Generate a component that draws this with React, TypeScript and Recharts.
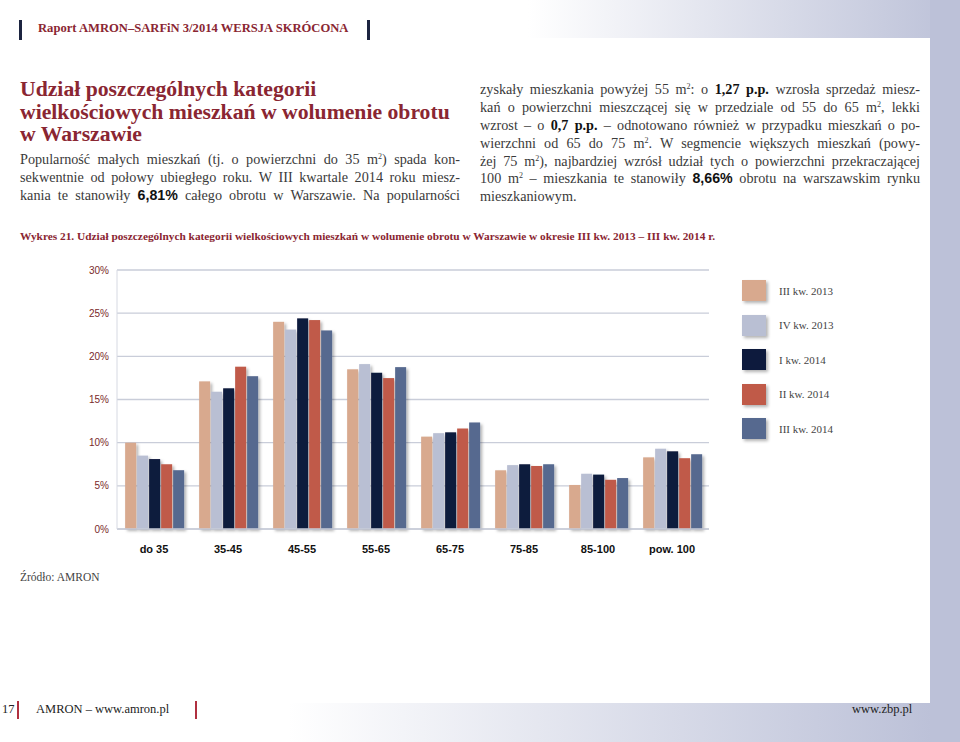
import React from 'react';
import { BarChart, Bar, XAxis, YAxis, CartesianGrid } from 'recharts';

const categories = ['do 35', '35-45', '45-55', '55-65', '65-75', '75-85', '85-100', 'pow. 100'];
const q3_2013 = [10.0, 17.1, 24.0, 18.5, 10.7, 6.8, 5.1, 8.3];
const q4_2013 = [8.5, 15.9, 23.1, 19.1, 11.1, 7.4, 6.4, 9.3];
const q1_2014 = [8.1, 16.3, 24.4, 18.1, 11.2, 7.5, 6.3, 9.0];
const q2_2014 = [7.5, 18.8, 24.2, 17.48, 11.64, 7.3, 5.7, 8.2];
const q3_2014 = [6.81, 17.7, 23.0, 18.75, 12.34, 7.5, 5.9, 8.66];
const yTicks = [0, 5, 10, 15, 20, 25, 30];

const seriesList = [
  { key: 'q3_2013', name: 'III kw. 2013', color: '#d8a98e', values: q3_2013 },
  { key: 'q4_2013', name: 'IV kw. 2013', color: '#b9bfd3', values: q4_2013 },
  { key: 'q1_2014', name: 'I kw. 2014', color: '#0d1a3d', values: q1_2014 },
  { key: 'q2_2014', name: 'II kw. 2014', color: '#c05a48', values: q2_2014 },
  { key: 'q3_2014', name: 'III kw. 2014', color: '#56698f', values: q3_2014 },
];

const data = categories.map((c, i) => {
  const row: Record<string, string | number> = { cat: c };
  seriesList.forEach(s => { row[s.key] = s.values[i]; });
  return row;
});

const RED = '#8a2632';
const LAV = '#bcc1d8';
const serif = "'Liberation Serif', 'DejaVu Serif', serif";

function ShadowBar(props: any) {
  const { x, y, width, height, fill } = props;
  if (height <= 0) return null;
  return <rect x={x} y={y} width={width} height={height} fill={fill} filter="url(#barShadow)" />;
}

function XTick(props: any) {
  const { x, y, payload } = props;
  return (
    <text x={x} y={y + 16} textAnchor="middle" fontSize={11} fontWeight="bold"
      fontFamily="'Liberation Sans Narrow', 'Liberation Sans', sans-serif" fill="#111">
      {payload.value}
    </text>
  );
}

const Sq = () => (
  <span style={{ fontSize: 8, position: 'relative', top: -5, lineHeight: 0 }}>2</span>
);

const Line = ({ children, last }: { children: React.ReactNode; last?: boolean }) => (
  <div style={{ textAlign: 'justify', textAlignLast: last ? 'left' : 'justify', whiteSpace: 'nowrap', height: 17.9 }}>{children}</div>
);

const bodyStyle: React.CSSProperties = {
  position: 'absolute', fontFamily: serif, fontSize: 14.2, lineHeight: '17.9px', color: '#3a3a3a',
};

export default function App() {
  return (
    <div style={{ position: 'absolute', left: 0, top: 0, width: 960, height: 742, overflow: 'hidden', background: '#fff' }}>
      {/* background frame */}
      <div style={{ position: 'absolute', left: 0, top: 0, width: 960, height: 38, background: `linear-gradient(to right, #fff 55%, ${LAV} 100%)` }} />
      <div style={{ position: 'absolute', left: 930, top: 0, width: 30, height: 742, background: LAV }} />
      <div style={{ position: 'absolute', left: 0, top: 703, width: 960, height: 39, background: `linear-gradient(to right, #fff 30%, ${LAV} 97%)` }} />

      {/* header */}
      <div style={{ position: 'absolute', left: 19, top: 20, width: 3, height: 20, background: '#1c2440' }} />
      <div style={{ position: 'absolute', left: 38, top: 21, fontFamily: serif, fontWeight: 'bold', fontSize: 12.6, color: RED }}>
        Raport AMRON–SARFiN 3/2014 WERSJA SKRÓCONA
      </div>
      <div style={{ position: 'absolute', left: 367, top: 20, width: 3, height: 20, background: '#1c2440' }} />

      {/* title */}
      <div style={{ position: 'absolute', left: 20, top: 78, fontFamily: serif, fontWeight: 'bold', fontSize: 21.7, lineHeight: '22.5px', color: RED }}>
        <div>Udział poszczególnych kategorii</div>
        <div>wielkościowych mieszkań w wolumenie obrotu</div>
        <div>w Warszawie</div>
      </div>

      <div style={{ ...bodyStyle, left: 20, top: 151, width: 440 }}>
        <Line>Popularność małych mieszkań (tj. o powierzchni do 35 m<Sq />) spada kon-</Line>
        <Line>sekwentnie od połowy ubiegłego roku. W III kwartale 2014 roku miesz-</Line>
        <Line>kania te stanowiły <b style={{ fontFamily: "'Liberation Sans', sans-serif", color: '#111' }}>6,81%</b> całego obrotu w Warszawie. Na popularności</Line>
      </div>

      <div style={{ ...bodyStyle, left: 480, top: 81, width: 440 }}>
        <Line>zyskały mieszkania powyżej 55 m<Sq />: o <b style={{ color: '#111' }}>1,27 p.p.</b> wzrosła sprzedaż miesz-</Line>
        <Line>kań o powierzchni mieszczącej się w przedziale od 55 do 65 m<Sq />, lekki</Line>
        <Line>wzrost – o <b style={{ color: '#111' }}>0,7 p.p.</b> – odnotowano również w przypadku mieszkań o po-</Line>
        <Line>wierzchni od 65 do 75 m<Sq />. W segmencie większych mieszkań (powy-</Line>
        <Line>żej 75 m<Sq />), najbardziej wzrósł udział tych o powierzchni przekraczającej</Line>
        <Line>100 m<Sq /> – mieszkania te stanowiły <b style={{ fontFamily: "'Liberation Sans', sans-serif", color: '#111' }}>8,66%</b> obrotu na warszawskim rynku</Line>
        <Line last>mieszkaniowym.</Line>
      </div>

      {/* chart caption */}
      <div style={{ position: 'absolute', left: 20, top: 230, fontFamily: serif, fontWeight: 'bold', fontSize: 11.35, color: RED, whiteSpace: 'nowrap' }}>
        Wykres 21. Udział poszczególnych kategorii wielkościowych mieszkań w wolumenie obrotu w Warszawie w okresie III kw. 2013 – III kw. 2014 r.
      </div>

      {/* chart */}
      <div style={{ position: 'absolute', left: 60, top: 260 }}>
        <BarChart width={660} height={310} data={data} barCategoryGap="11%" barGap={1}
          margin={{ top: 10, right: 11, bottom: 11, left: 10 }}>
          <defs>
            <filter id="barShadow" x="-30%" y="-10%" width="170%" height="130%">
              <feDropShadow dx="2" dy="2" stdDeviation="1.4" floodColor="#000" floodOpacity="0.3" />
            </filter>
          </defs>
          <CartesianGrid vertical={false} stroke="#c9cdd9" strokeWidth={1.3} />
          <XAxis dataKey="cat" tick={<XTick />} tickLine={false} axisLine={{ stroke: '#c9cdd9', strokeWidth: 1.3 }} height={30} interval={0} />
          <YAxis domain={[0, 30]} ticks={yTicks} tickFormatter={v => `${v}%`} width={47}
            axisLine={{ stroke: '#d6d9e2' }} tickLine={false}
            tick={{ fontSize: 10, fill: '#7a2a2a', fontFamily: "'Liberation Sans', sans-serif" }} />
          {seriesList.map(s => (
            <Bar key={s.key} dataKey={s.key} name={s.name} fill={s.color} shape={ShadowBar} isAnimationActive={false} />
          ))}
        </BarChart>
      </div>

      {/* legend */}
      <div style={{ position: 'absolute', left: 742, top: 280 }}>
        {seriesList.map((s, i) => (
          <div key={s.key} style={{ position: 'absolute', left: 0, top: i * 34.5, display: 'flex', alignItems: 'center', whiteSpace: 'nowrap' }}>
            <div style={{ width: 24, height: 21, background: s.color, boxShadow: '2px 2px 3px rgba(0,0,0,0.3)' }} />
            <span style={{ marginLeft: 13, fontFamily: serif, fontSize: 11, color: '#444' }}>{s.name}</span>
          </div>
        ))}
      </div>

      <div style={{ position: 'absolute', left: 20, top: 571, fontFamily: serif, fontSize: 11.5, color: '#444' }}>Źródło: AMRON</div>

      {/* footer */}
      <div style={{ position: 'absolute', left: 2, top: 702, fontFamily: serif, fontSize: 12.5, color: '#222' }}>17</div>
      <div style={{ position: 'absolute', left: 17, top: 701, width: 1.5, height: 18, background: '#b03040' }} />
      <div style={{ position: 'absolute', left: 36, top: 702, fontFamily: serif, fontSize: 12.5, color: '#222' }}>AMRON – www.amron.pl</div>
      <div style={{ position: 'absolute', left: 195, top: 701, width: 1.5, height: 18, background: '#b03040' }} />
      <div style={{ position: 'absolute', left: 852, top: 702, fontFamily: serif, fontSize: 12.5, color: '#222' }}>www.zbp.pl</div>
    </div>
  );
}
